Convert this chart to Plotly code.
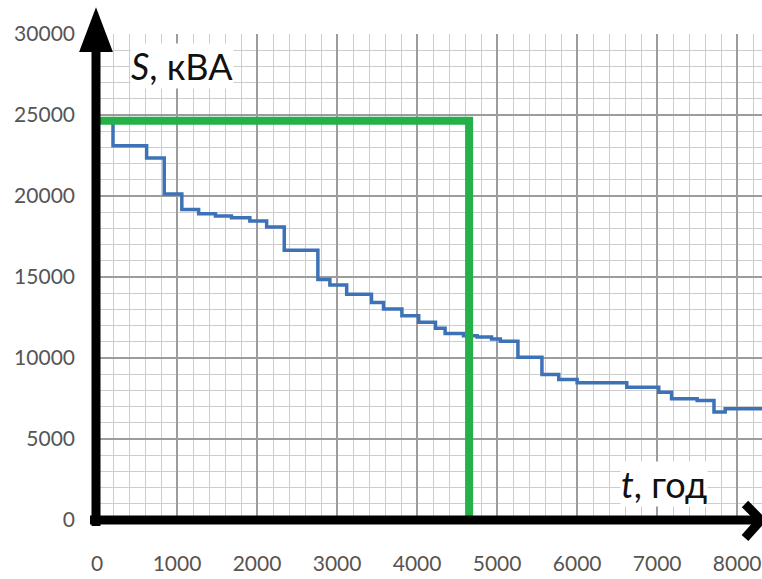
import plotly.graph_objects as go

# ---- data ----
t_hours = [0, 200, 620, 840, 1060, 1270, 1480, 1680, 1910, 2120, 2340, 2760, 2910,
           3120, 3430, 3580, 3810, 4020, 4230, 4350, 4580, 4750, 4930, 5040, 5260,
           5560, 5770, 6000, 6620, 7020, 7180, 7500, 7710, 7850, 8310]
s_kva = [24650, 23100, 22350, 20130, 19170, 18900, 18760, 18650, 18450, 18080, 16650,
         14840, 14500, 13940, 13430, 13020, 12610, 12200, 11830, 11520, 11380, 11300,
         11170, 11030, 10040, 8980, 8670, 8470, 8200, 7890, 7480, 7380, 6660, 6870, 6870]

t_max = 4650      # green vertical line
s_max = 24650     # green horizontal line

x_ticks = [0, 1000, 2000, 3000, 4000, 5000, 6000, 7000, 8000]
y_ticks = [0, 5000, 10000, 15000, 20000, 25000, 30000]

# ---- layout geometry ----
W, H = 762, 579
ML, MR, MT, MB = 97, 0, 34, 59
PW, PH = W - ML - MR, H - MT - MB


def px(xp):
    return (xp - ML) / PW


def py(yp):
    return (H - MB - yp) / PH


fig = go.Figure()

fig.add_trace(go.Scatter(
    x=t_hours, y=s_kva, mode="lines", line=dict(color="#3d72b6", width=3.5, shape="hv"),
    showlegend=False, hoverinfo="skip"))

fig.add_trace(go.Scatter(
    x=[0, t_max, t_max], y=[s_max, s_max, 0], mode="lines",
    line=dict(color="#25b14a", width=8), showlegend=False, hoverinfo="skip"))

black = "#000000"
shapes = [
    # vertical axis line
    dict(type="line", xref="paper", yref="paper", x0=px(96), x1=px(96), y0=py(526), y1=py(40),
         line=dict(color=black, width=9)),
    # vertical arrow head
    dict(type="path", xref="paper", yref="paper",
         path=f"M {px(82)} {py(50)} L {px(96)} {py(13)} L {px(110)} {py(50)} Z",
         fillcolor=black, line=dict(color=black, width=4)),
    # horizontal axis line
    dict(type="line", xref="paper", yref="paper", x0=px(90), x1=px(758), y0=py(520), y1=py(520),
         line=dict(color=black, width=9)),
    # horizontal arrow head (chevron)
    dict(type="path", xref="paper", yref="paper",
         path=f"M {px(745)} {py(504)} L {px(761)} {py(520)} L {px(745)} {py(538)}",
         line=dict(color=black, width=9)),
]

annotations = [
    dict(x=1060, y=28050, xref="x", yref="y", text="<i>S</i>, кВА", showarrow=False,
         font=dict(family="Lato", size=36, color="#111111"), bgcolor="white",
         borderpad=0),
    dict(x=7080, y=2250, xref="x", yref="y", text="<i>t</i>, год", showarrow=False,
         font=dict(family="Lato", size=36, color="#111111"), bgcolor="white",
         borderpad=0),
]

tickfont = dict(family="Lato", size=21, color="#555555")

fig.update_layout(
    width=W, height=H,
    margin=dict(l=ML, r=MR, t=MT, b=MB, pad=0),
    paper_bgcolor="white", plot_bgcolor="white",
    shapes=shapes, annotations=annotations,
    xaxis=dict(range=[0, 8310], tickvals=x_ticks, ticktext=[str(v) for v in x_ticks],
               showgrid=True, gridcolor="#9c9c9c", gridwidth=1.7,
               minor=dict(dtick=200, showgrid=True, gridcolor="#cdcdcd", gridwidth=1.3),
               zeroline=False, showline=False, ticks="", tickfont=tickfont,
               ticklabelstandoff=29),
    yaxis=dict(range=[0, 30000], tickvals=y_ticks, ticktext=[str(v) for v in y_ticks],
               showgrid=True, gridcolor="#9c9c9c", gridwidth=1.7,
               minor=dict(dtick=1000, showgrid=True, gridcolor="#cdcdcd", gridwidth=1.3),
               zeroline=False, showline=False, ticks="", tickfont=tickfont,
               ticklabelstandoff=21),
)

fig.write_html("out.html")
